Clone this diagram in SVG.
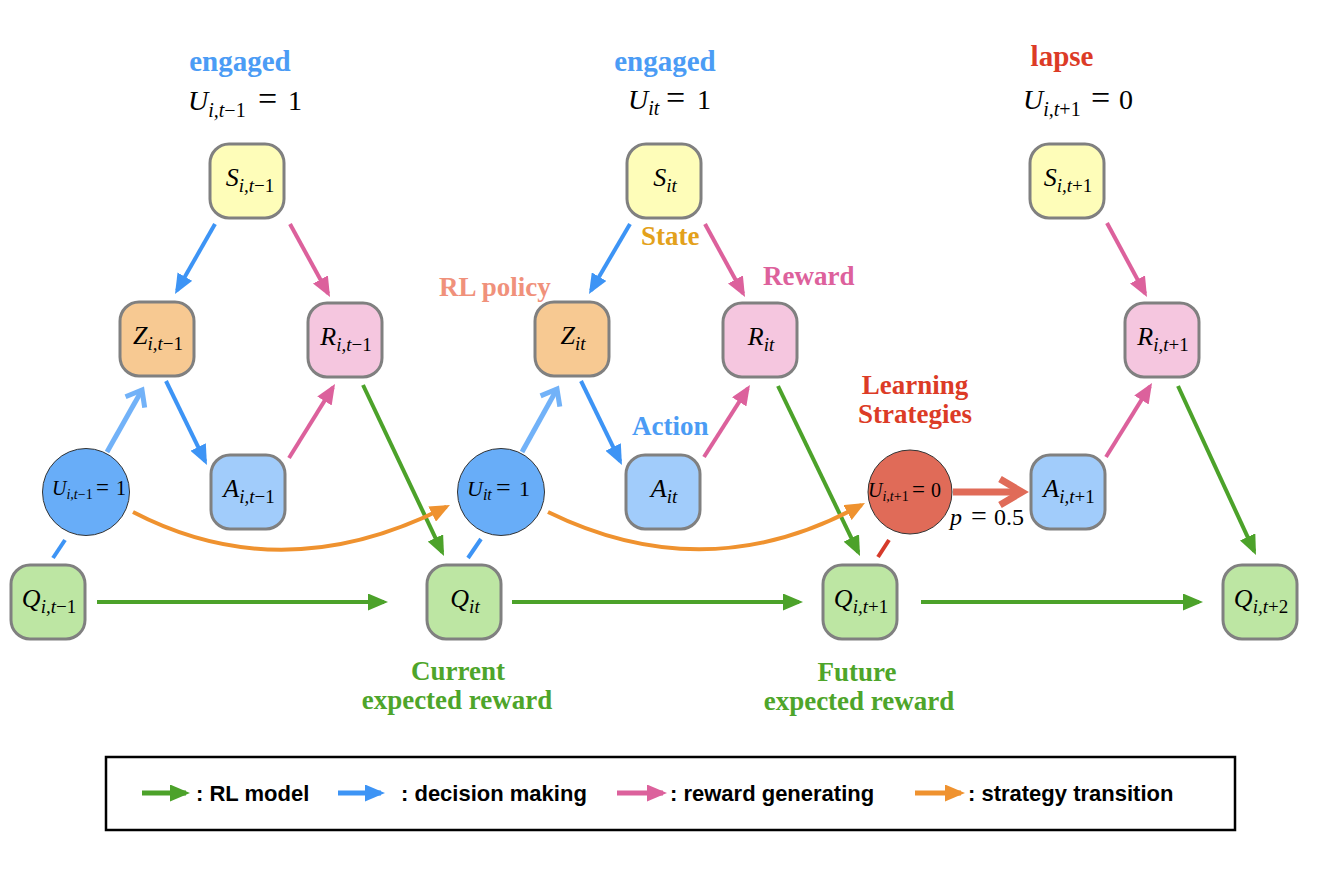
<svg xmlns="http://www.w3.org/2000/svg" width="1339" height="881" viewBox="0 0 1339 881">
<style>
.nd{stroke:#808080;stroke-width:3}
.y{fill:#fefdb9}.o{fill:#f7c992}.p{fill:#f5c6df}.b{fill:#a1ccfb}.g{fill:#bde6a3}
.ml{font-family:"Liberation Serif",serif;font-size:26px;fill:#000}
.it{font-style:italic}
.sb{font-size:19px}
.lb{font-family:"Liberation Serif",serif;font-weight:bold;font-size:27px}
.lg{font-family:"Liberation Sans",Arial,sans-serif;font-weight:bold;font-size:22px;fill:#000}
.cg{stroke:#4ca22a}.cb{stroke:#3d94f5}.cp{stroke:#dc619c}.co{stroke:#ef922f}
.ar{fill:none;stroke-width:4}
</style>
<defs>
<marker id="mg" markerUnits="userSpaceOnUse" markerWidth="20" markerHeight="17" refX="16" refY="8.5" orient="auto"><path d="M0,0 L20,8.5 L0,17 z" fill="#4ca22a"/></marker>
<marker id="mb" markerUnits="userSpaceOnUse" markerWidth="20" markerHeight="17" refX="16" refY="8.5" orient="auto"><path d="M0,0 L20,8.5 L0,17 z" fill="#3d94f5"/></marker>
<marker id="mp" markerUnits="userSpaceOnUse" markerWidth="20" markerHeight="17" refX="16" refY="8.5" orient="auto"><path d="M0,0 L20,8.5 L0,17 z" fill="#dc619c"/></marker>
<marker id="mo" markerUnits="userSpaceOnUse" markerWidth="20" markerHeight="17" refX="16" refY="8.5" orient="auto"><path d="M0,0 L20,8.5 L0,17 z" fill="#ef922f"/></marker>
<marker id="ml" markerUnits="userSpaceOnUse" markerWidth="30" markerHeight="30" refX="15" refY="15" orient="auto" overflow="visible"><path d="M1,4 L15,15 L1,26" fill="none" stroke="#72b2f8" stroke-width="5"/></marker>
<marker id="mr" markerUnits="userSpaceOnUse" markerWidth="40" markerHeight="40" refX="24" refY="20" orient="auto" overflow="visible"><path d="M2,7 L24,20 L2,33" fill="none" stroke="#e06b58" stroke-width="7"/></marker>
</defs>
<rect width="1339" height="881" fill="#fff"/>

<g id="connectors">
<line class="ar cb" x1="215" y1="224" x2="177" y2="290.5" marker-end="url(#mb)"/>
<line class="ar cp" x1="290" y1="224" x2="328.1" y2="293.5" marker-end="url(#mp)"/>
<line class="ar cb" x1="166" y1="381" x2="205.2" y2="461.4" marker-end="url(#mb)"/>
<line class="ar cp" x1="289" y1="458" x2="332.9" y2="387.4" marker-end="url(#mp)"/>
<line class="ar cg" x1="363" y1="385" x2="442.3" y2="552.4" marker-end="url(#mg)"/>
<line class="ar cg" x1="97" y1="602" x2="384" y2="602" marker-end="url(#mg)"/>
<line class="ar cb" x1="630" y1="224" x2="591" y2="290.5" marker-end="url(#mb)"/>
<line class="ar cp" x1="705" y1="224" x2="743.1" y2="293.5" marker-end="url(#mp)"/>
<line class="ar cb" x1="581" y1="381" x2="620.2" y2="461.4" marker-end="url(#mb)"/>
<line class="ar cp" x1="704" y1="457" x2="747.8" y2="388.4" marker-end="url(#mp)"/>
<line class="ar cg" x1="778" y1="386" x2="858.3" y2="552.4" marker-end="url(#mg)"/>
<line class="ar cg" x1="512" y1="602" x2="799" y2="602" marker-end="url(#mg)"/>
<line class="ar cp" x1="1107" y1="223" x2="1145.1" y2="293.5" marker-end="url(#mp)"/>
<line class="ar cp" x1="1106" y1="457" x2="1149.9" y2="386.4" marker-end="url(#mp)"/>
<line class="ar cg" x1="1178" y1="386" x2="1254.3" y2="551.4" marker-end="url(#mg)"/>
<line class="ar cg" x1="921" y1="602" x2="1199" y2="602" marker-end="url(#mg)"/>
<path class="ar co" d="M133,512 Q283,590 446.4,506.8" marker-end="url(#mo)"/>
<path class="ar co" d="M548,512 Q707,590 861.5,504.9" marker-end="url(#mo)"/>
<line x1="107" y1="452" x2="142" y2="390" stroke="#72b2f8" stroke-width="5" marker-end="url(#ml)"/>
<line x1="522" y1="452" x2="557" y2="389" stroke="#72b2f8" stroke-width="5" marker-end="url(#ml)"/>
<line x1="953" y1="492" x2="1022" y2="492" stroke="#e06b58" stroke-width="7" marker-end="url(#mr)"/>
<line x1="53" y1="558" x2="65" y2="540" stroke="#3d94f5" stroke-width="4"/>
<line x1="468" y1="558" x2="481" y2="539" stroke="#3d94f5" stroke-width="4"/>
<line x1="878" y1="557" x2="889" y2="540" stroke="#d63a2a" stroke-width="4"/>
</g>

<g id="S1"><rect class="nd y" x="210" y="144" width="74" height="74" rx="19"/><text class="ml" x="250" y="186" text-anchor="middle"><tspan class="it">S</tspan><tspan class="sb it" dy="6">i,t</tspan><tspan class="sb">−1</tspan></text></g>
<g id="Z1"><rect class="nd o" x="120" y="302" width="74" height="74" rx="19"/><text class="ml" x="158" y="344" text-anchor="middle"><tspan class="it">Z</tspan><tspan class="sb it" dy="6">i,t</tspan><tspan class="sb">−1</tspan></text></g>
<g id="R1"><rect class="nd p" x="308" y="303" width="74" height="74" rx="19"/><text class="ml" x="346" y="345" text-anchor="middle"><tspan class="it">R</tspan><tspan class="sb it" dy="6">i,t</tspan><tspan class="sb">−1</tspan></text></g>
<g id="A1"><rect class="nd b" x="211" y="455" width="74" height="74" rx="19"/><text class="ml" x="249" y="497" text-anchor="middle"><tspan class="it">A</tspan><tspan class="sb it" dy="6">i,t</tspan><tspan class="sb">−1</tspan></text></g>
<g id="Q1"><rect class="nd g" x="11" y="565" width="74" height="74" rx="19"/><text class="ml" x="49" y="607" text-anchor="middle"><tspan class="it">Q</tspan><tspan class="sb it" dy="6">i,t</tspan><tspan class="sb">−1</tspan></text></g>
<g id="U1"><circle cx="86" cy="492" r="43.5" fill="#68adf8" stroke="#333" stroke-width="1"/><text class="ml" y="495" style="font-size:20px"><tspan class="it" x="52">U</tspan><tspan class="it" style="font-size:14px" dy="4">i,t</tspan><tspan style="font-size:14px">−1</tspan><tspan x="96" dy="-4" style="font-size:23px">=</tspan><tspan x="116">1</tspan></text></g>

<g id="S2"><rect class="nd y" x="627" y="144" width="74" height="74" rx="19"/><text class="ml" x="665" y="186" text-anchor="middle"><tspan class="it">S</tspan><tspan class="sb it" dy="6">it</tspan></text></g>
<g id="Z2"><rect class="nd o" x="535" y="302" width="74" height="74" rx="19"/><text class="ml" x="573" y="344" text-anchor="middle"><tspan class="it">Z</tspan><tspan class="sb it" dy="6">it</tspan></text></g>
<g id="R2"><rect class="nd p" x="723" y="303" width="74" height="74" rx="19"/><text class="ml" x="761" y="345" text-anchor="middle"><tspan class="it">R</tspan><tspan class="sb it" dy="6">it</tspan></text></g>
<g id="A2"><rect class="nd b" x="626" y="455" width="74" height="74" rx="19"/><text class="ml" x="664" y="497" text-anchor="middle"><tspan class="it">A</tspan><tspan class="sb it" dy="6">it</tspan></text></g>
<g id="Q2"><rect class="nd g" x="427" y="565" width="74" height="74" rx="19"/><text class="ml" x="465" y="607" text-anchor="middle"><tspan class="it">Q</tspan><tspan class="sb it" dy="6">it</tspan></text></g>
<g id="U2"><circle cx="501" cy="492" r="43.5" fill="#68adf8" stroke="#333" stroke-width="1"/><text class="ml" y="496" style="font-size:22px"><tspan class="it" x="467">U</tspan><tspan class="it" style="font-size:16px" dy="4">it</tspan><tspan x="496" dy="-4" style="font-size:26px">=</tspan><tspan x="519">1</tspan></text></g>

<g id="S3"><rect class="nd y" x="1030" y="144" width="74" height="74" rx="19"/><text class="ml" x="1068" y="186" text-anchor="middle"><tspan class="it">S</tspan><tspan class="sb it" dy="6">i,t</tspan><tspan class="sb">+1</tspan></text></g>
<g id="R3"><rect class="nd p" x="1125" y="303" width="74" height="74" rx="19"/><text class="ml" x="1163" y="345" text-anchor="middle"><tspan class="it">R</tspan><tspan class="sb it" dy="6">i,t</tspan><tspan class="sb">+1</tspan></text></g>
<g id="A3"><rect class="nd b" x="1031" y="455" width="74" height="74" rx="19"/><text class="ml" x="1069" y="497" text-anchor="middle"><tspan class="it">A</tspan><tspan class="sb it" dy="6">i,t</tspan><tspan class="sb">+1</tspan></text></g>
<g id="Q3"><rect class="nd g" x="823" y="565" width="74" height="74" rx="19"/><text class="ml" x="861" y="607" text-anchor="middle"><tspan class="it">Q</tspan><tspan class="sb it" dy="6">i,t</tspan><tspan class="sb">+1</tspan></text></g>
<g id="Q4"><rect class="nd g" x="1223" y="565" width="74" height="74" rx="19"/><text class="ml" x="1261" y="607" text-anchor="middle"><tspan class="it">Q</tspan><tspan class="sb it" dy="6">i,t</tspan><tspan class="sb">+2</tspan></text></g>
<g id="U3"><circle cx="910" cy="492" r="42" fill="#e06b58" stroke="#333" stroke-width="1"/><text class="ml" y="497" style="font-size:20px"><tspan class="it" x="868">U</tspan><tspan class="it" style="font-size:14px" dy="4">i,t</tspan><tspan style="font-size:14px">+1</tspan><tspan x="912" dy="-4" style="font-size:23px">=</tspan><tspan x="931">0</tspan></text></g>

<g id="p-label"><text class="ml" y="525" style="font-size:24px"><tspan class="it" x="950">p</tspan><tspan x="971" style="font-size:28px">=</tspan><tspan x="994">0.5</tspan></text></g>

<g id="headers">
<text class="lb" x="240" y="71" text-anchor="middle" fill="#4b9cf5" style="font-size:29px">engaged</text>
<text class="ml" y="110" style="font-size:28px"><tspan class="it" x="188">U</tspan><tspan class="it" style="font-size:20px" dy="7">i,t</tspan><tspan style="font-size:20px">−1</tspan><tspan x="258" dy="-7" style="font-size:34px">=</tspan><tspan x="288">1</tspan></text>
<text class="lb" x="665" y="71" text-anchor="middle" fill="#4b9cf5" style="font-size:29px">engaged</text>
<text class="ml" y="109" style="font-size:28px"><tspan class="it" x="628">U</tspan><tspan class="it" style="font-size:20px" dy="6">it</tspan><tspan x="666" dy="-6" style="font-size:34px">=</tspan><tspan x="697">1</tspan></text>
<text class="lb" x="1062" y="66" text-anchor="middle" fill="#dc3b26" style="font-size:29px">lapse</text>
<text class="ml" y="109" style="font-size:28px"><tspan class="it" x="1023">U</tspan><tspan class="it" style="font-size:20px" dy="7">i,t</tspan><tspan style="font-size:20px">+1</tspan><tspan x="1091" dy="-7" style="font-size:34px">=</tspan><tspan x="1119">0</tspan></text>
</g>

<g id="annotations">
<text class="lb" x="641" y="245" fill="#e3a11b">State</text>
<text class="lb" x="439" y="296" fill="#f0917b">RL policy</text>
<text class="lb" x="763" y="285" fill="#dd619c">Reward</text>
<text class="lb" x="632" y="435" fill="#4b9cf5">Action</text>
<text class="lb" x="915" y="394" text-anchor="middle" fill="#dc3b26">Learning</text>
<text class="lb" x="915" y="423" text-anchor="middle" fill="#dc3b26">Strategies</text>
<text class="lb" x="458" y="680" text-anchor="middle" fill="#4ea52a">Current</text>
<text class="lb" x="457" y="709" text-anchor="middle" fill="#4ea52a">expected reward</text>
<text class="lb" x="857" y="681" text-anchor="middle" fill="#4ea52a">Future</text>
<text class="lb" x="859" y="710" text-anchor="middle" fill="#4ea52a">expected reward</text>
</g>

<g id="legend">
<rect x="106" y="757" width="1129" height="73" fill="none" stroke="#000" stroke-width="2.5"/>
<line x1="142" y1="793" x2="186" y2="793" stroke="#4ca22a" stroke-width="5" marker-end="url(#mg)"/>
<text class="lg" x="196" y="801">: RL model</text>
<line x1="338" y1="793" x2="381" y2="793" stroke="#3d94f5" stroke-width="5" marker-end="url(#mb)"/>
<text class="lg" x="401" y="801">: decision making</text>
<line x1="617" y1="793" x2="663" y2="793" stroke="#dc619c" stroke-width="5" marker-end="url(#mp)"/>
<text class="lg" x="670" y="801">: reward generating</text>
<line x1="915" y1="793" x2="961" y2="793" stroke="#ef922f" stroke-width="5" marker-end="url(#mo)"/>
<text class="lg" x="968" y="801">: strategy transition</text>
</g>
</svg>
